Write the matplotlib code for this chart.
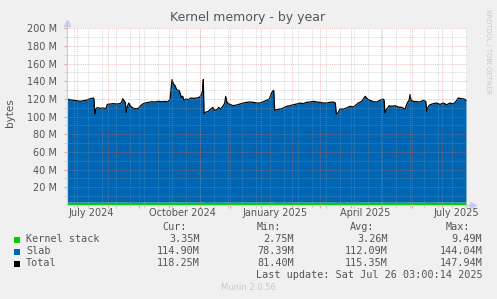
import matplotlib
matplotlib.use("Agg")
import matplotlib.pyplot as plt
import matplotlib.transforms as mtransforms
from datetime import datetime, timedelta

# ---------------- data ----------------
start = datetime(2024, 6, 21, 3, 0)   # left edge of the 400-day window

days = [0, 3, 6.3, 9.7, 13, 16.3, 19.7, 22.3, 24.7, 26.3,
        27, 27.7, 28.7, 30.3, 33, 36.3, 39, 40.3, 43, 46.3,
        49.7, 53, 54.7, 55.7, 57, 58.3, 59.3, 60.3, 61.7, 63.7,
        65.7, 68, 71.3, 73.7, 75.7, 78, 81.3, 84.7, 88, 91.3,
        94.7, 98, 100.3, 103, 104.3, 105, 106.3, 108, 109.7, 112.3,
        114.3, 115.7, 117, 119, 121.3, 123.7, 126.3, 129.7, 132.3, 134.3,
        135.7, 136.3, 137, 139, 141.3, 143.7, 145.7, 147.7, 149.7, 151.7,
        153.7, 156.3, 157.7, 158.7, 159.7, 161.3, 163.7, 166.3, 169.7, 173,
        176.3, 179.7, 183, 186.3, 189.7, 193, 196.3, 199.7, 202.3, 204.3,
        205.7, 206.7, 207.7, 209.7, 213, 216.3, 219.7, 223, 226.3, 229.7,
        233, 236.3, 239.7, 243, 246.3, 249.7, 253, 256.3, 259.7, 263,
        266.3, 268.3, 269.3, 271, 273, 276.3, 279.7, 283, 286.3, 289,
        291.3, 294.7, 297, 298.3, 300.3, 303, 306.3, 309.7, 313, 315.7,
        317, 318, 319.7, 322.3, 324.7, 328, 331.3, 334.7, 338, 340.3,
        342.3, 343, 344, 346.3, 349.7, 353, 356.3, 358.7, 359.7, 361,
        363, 366.3, 369.7, 373, 376.3, 379.7, 383, 386.3, 389, 391.3,
        394.7, 397, 399]

total_mb = [120.0, 119.2, 118.5, 118.1, 117.3, 118.1, 118.8, 120.0, 120.7, 121.1,
            120.0, 103.0, 108.6, 110.2, 109.4, 109.8, 109.0, 113.9, 114.3, 114.7,
            114.3, 114.7, 116.2, 120.3, 118.1, 116.2, 104.9, 110.9, 115.4, 111.7,
            109.8, 109.0, 109.4, 112.4, 114.3, 115.4, 116.2, 116.9, 116.6, 117.3,
            116.9, 117.3, 116.6, 119.2, 134.3, 141.9, 137.3, 135.1, 130.5, 129.4,
            121.8, 123.0, 118.5, 120.0, 119.2, 121.1, 120.7, 121.1, 121.8, 124.5,
            129.8, 141.9, 103.4, 105.2, 106.0, 108.6, 110.5, 107.1, 107.9, 110.5,
            108.6, 112.4, 115.4, 123.0, 116.9, 114.7, 113.5, 112.4, 113.2, 114.3,
            115.4, 116.2, 116.6, 116.2, 115.4, 115.4, 116.9, 118.5, 120.0, 126.0,
            129.0, 129.8, 107.1, 107.9, 108.6, 109.8, 111.7, 112.4, 113.5, 114.3,
            115.4, 114.7, 116.2, 116.6, 117.3, 116.6, 116.2, 115.4, 115.4, 116.2,
            116.6, 115.4, 103.0, 104.1, 108.6, 108.6, 109.8, 111.7, 110.9, 113.2,
            115.4, 117.3, 121.1, 123.0, 120.0, 118.5, 116.9, 116.6, 118.5, 120.0,
            119.2, 104.1, 108.6, 112.4, 111.7, 112.4, 110.9, 110.5, 108.6, 115.4,
            119.2, 124.9, 118.5, 117.3, 116.9, 116.6, 118.5, 117.3, 106.0, 110.9,
            113.5, 114.7, 115.4, 113.9, 115.4, 113.5, 115.4, 114.3, 117.3, 121.1,
            120.3, 120.0, 118.5]

kernel_stack_mb = [3.3, 3.3, 3.2, 3.2, 3.3, 3.3, 3.2, 3.3, 3.3, 3.3,
                   3.3, 3.1, 3.1, 3.2, 3.2, 3.2, 3.2, 3.3, 3.3, 3.3,
                   3.3, 3.3, 3.3, 3.4, 3.3, 3.3, 3.1, 3.2, 3.3, 3.2,
                   3.2, 3.2, 3.2, 3.2, 3.3, 3.3, 3.3, 3.3, 3.3, 3.3,
                   3.3, 3.3, 3.3, 3.3, 3.6, 3.8, 3.6, 3.5, 3.4, 3.4,
                   3.3, 3.3, 3.3, 3.3, 3.3, 3.3, 3.3, 3.3, 3.3, 3.4,
                   3.5, 3.8, 3.0, 3.1, 3.1, 3.2, 3.2, 3.2, 3.2, 3.2,
                   3.2, 3.2, 3.3, 3.4, 3.3, 3.3, 3.2, 3.2, 3.2, 3.3,
                   3.3, 3.3, 3.3, 3.3, 3.3, 3.3, 3.3, 3.3, 3.3, 3.4,
                   3.5, 3.5, 3.1, 3.1, 3.2, 3.2, 3.2, 3.2, 3.3, 3.3,
                   3.3, 3.3, 3.3, 3.3, 3.3, 3.3, 3.3, 3.3, 3.3, 3.3,
                   3.3, 3.3, 3.0, 3.1, 3.2, 3.2, 3.2, 3.2, 3.2, 3.2,
                   3.3, 3.3, 3.4, 3.4, 3.3, 3.3, 3.3, 3.3, 3.3, 3.3,
                   3.3, 3.1, 3.2, 3.2, 3.2, 3.2, 3.2, 3.2, 3.2, 3.3,
                   3.3, 3.4, 3.3, 3.3, 3.3, 3.3, 3.3, 3.3, 3.1, 3.2,
                   3.2, 3.3, 3.3, 3.3, 3.3, 3.3, 3.3, 3.3, 3.3, 3.4,
                   3.4, 3.4, 3.35]

series_names = ["Kernel stack", "Slab", "Total"]
series_colors = ["#00cc00", "#0066b3", "#000000"]
cur_vals = ["3.35M", "114.90M", "118.25M"]
min_vals = ["2.75M", "78.39M", "81.40M"]
avg_vals = ["3.26M", "112.09M", "115.35M"]
max_vals = ["9.49M", "144.04M", "147.94M"]

month_labels = ["July 2024", "October 2024", "January 2025", "April 2025", "July 2025"]
month_label_dates = [datetime(2024, 7, 15), datetime(2024, 10, 15), datetime(2025, 1, 15),
                     datetime(2025, 4, 15), datetime(2025, 7, 15)]
y_major = [20, 40, 60, 80, 100, 120, 140, 160, 180, 200]
y_minor = [10, 30, 50, 70, 90, 110, 130, 150, 170, 190]

title = "Kernel memory - by year"
last_update = "Last update: Sat Jul 26 03:00:14 2025"

# ---------------- helpers ----------------
def dpos(d):
    return (d - start).total_seconds() / 86400.0

W, H = 497, 299
BG = "#f0f0f0"
TXT = "#555555"
MGRID = "#e07070"
GRID = "#a0a0a0"
AXC = "#c8c8f0"

fig = plt.figure(figsize=(W / 100, H / 100), dpi=100, facecolor=BG)
x0, x1, ytop, ybot = 67, 467, 28.3, 205
ax = fig.add_axes([x0 / W, 1 - ybot / H, (x1 - x0) / W, (ybot - ytop) / H])
ax.set_facecolor("white")
ax.set_xlim(0, 400)
ax.set_ylim(0, 200)

ax.fill_between(days, 0, kernel_stack_mb, color=series_colors[0], lw=0, zorder=2)
ax.fill_between(days, kernel_stack_mb, total_mb, color=series_colors[1], lw=0, zorder=2)
ax.plot(days, total_mb, color="black", lw=0.9, zorder=3)

# grid (drawn over data as in rrdtool), dotted
dot = (0, (1.4, 1.4))
gkw = dict(lw=0.5, ls=dot, zorder=4)
for v in y_minor:
    ax.axhline(v, color=GRID, alpha=0.55, **gkw)
for v in y_major:
    ax.axhline(v, color=MGRID, alpha=0.6, **gkw)

month_starts = []
d = datetime(2024, 7, 1)
while d < datetime(2025, 7, 26):
    month_starts.append(dpos(d))
    d = datetime(d.year + (d.month // 12), d.month % 12 + 1, 1)
minor_x = []
d = datetime(2024, 6, 28)
while d < datetime(2025, 7, 26, 3):
    p = dpos(d)
    if 0 < p < 400:
        minor_x.append(p)
    d += timedelta(days=14)
for p in minor_x:
    ax.axvline(p, color=GRID, alpha=0.55, **gkw)
for p in month_starts:
    ax.axvline(p, color=MGRID, alpha=0.6, **gkw)

for s in ["top", "right"]:
    ax.spines[s].set_visible(False)
for s in ["left", "bottom"]:
    ax.spines[s].set_color(AXC)
    ax.spines[s].set_linewidth(0.8)
    ax.spines[s].set_zorder(5)

# axis extensions and arrows
ax.plot([0, 0], [1, 1.03], color=AXC, lw=0.8, transform=ax.transAxes, clip_on=False)
ax.plot([1, 1.015], [0, 0], color=AXC, lw=0.8, transform=ax.transAxes, clip_on=False)
ax.plot([0], [1.03], marker="^", ms=4, color=AXC, transform=ax.transAxes, clip_on=False)
ax.plot([1.015], [0], marker=">", ms=4, color=AXC, transform=ax.transAxes, clip_on=False)

ax.set_yticks(y_major)
ax.set_yticklabels([f"{v} M" for v in y_major])
ax.set_yticks(y_minor, minor=True)
ax.tick_params(axis="y", which="major", length=2, color="#e9a0a0", labelsize=7, labelcolor=TXT, pad=5)
ax.tick_params(axis="y", which="minor", length=2, color="#c8c8c8")
ax.set_xticks(month_starts)
ax.set_xticklabels([])
ax.set_xticks(minor_x, minor=True)
ax.tick_params(axis="x", which="major", length=2, color="#e9a0a0")
ax.tick_params(axis="x", which="minor", length=2, color="#c8c8c8")

trans = mtransforms.blended_transform_factory(ax.transData, fig.transFigure)
for lab, dd in zip(month_labels, month_label_dates):
    ax.text(dpos(dd), 1 - 213 / H, lab, transform=trans, ha="center", va="center",
            fontsize=7, color=TXT)

fig.text(248 / W, 1 - 18 / H, title, ha="center", va="center", fontsize=9, color=TXT)
fig.text(10 / W, 1 - 113 / H, "bytes", rotation=90, ha="center", va="center",
         fontsize=7.5, color=TXT)
fig.text(488 / W, 1 - 52 / H, "RRDTOOL / TOBI OETIKER", rotation=270, ha="center",
         va="center", fontsize=4.8, color="#c8c8c8")

# legend
mono = "DejaVu Sans Mono"
fs = 7.3
def fy(py):
    return 1 - py / H
fig.text(187 / W, fy(227.5), "Cur:", ha="right", va="center", family=mono, fontsize=fs, color=TXT)
fig.text(281 / W, fy(227.5), "Min:", ha="right", va="center", family=mono, fontsize=fs, color=TXT)
fig.text(374 / W, fy(227.5), "Avg:", ha="right", va="center", family=mono, fontsize=fs, color=TXT)
fig.text(470 / W, fy(227.5), "Max:", ha="right", va="center", family=mono, fontsize=fs, color=TXT)
rows_y = [239.5, 251.5, 263.5]
for i, name in enumerate(series_names):
    py = rows_y[i]
    fig.patches.append(plt.Rectangle((14 / W, fy(py + 3)), 6 / W, 6 / H, transform=fig.transFigure,
                                     facecolor=series_colors[i], edgecolor="none"))
    fig.text(26 / W, fy(py), name, ha="left", va="center", family=mono, fontsize=fs, color=TXT)
    fig.text(199.5 / W, fy(py), cur_vals[i], ha="right", va="center", family=mono, fontsize=fs, color=TXT)
    fig.text(294 / W, fy(py), min_vals[i], ha="right", va="center", family=mono, fontsize=fs, color=TXT)
    fig.text(388 / W, fy(py), avg_vals[i], ha="right", va="center", family=mono, fontsize=fs, color=TXT)
    fig.text(482.5 / W, fy(py), max_vals[i], ha="right", va="center", family=mono, fontsize=fs, color=TXT)
fig.text(482.5 / W, fy(275.5), last_update, ha="right", va="center", family=mono, fontsize=fs, color=TXT)
fig.text(248 / W, fy(288), "Munin 2.0.56", ha="center", va="center", fontsize=6, color="#c8c8c8")

fig.savefig("out.png", dpi=100, facecolor=BG)
